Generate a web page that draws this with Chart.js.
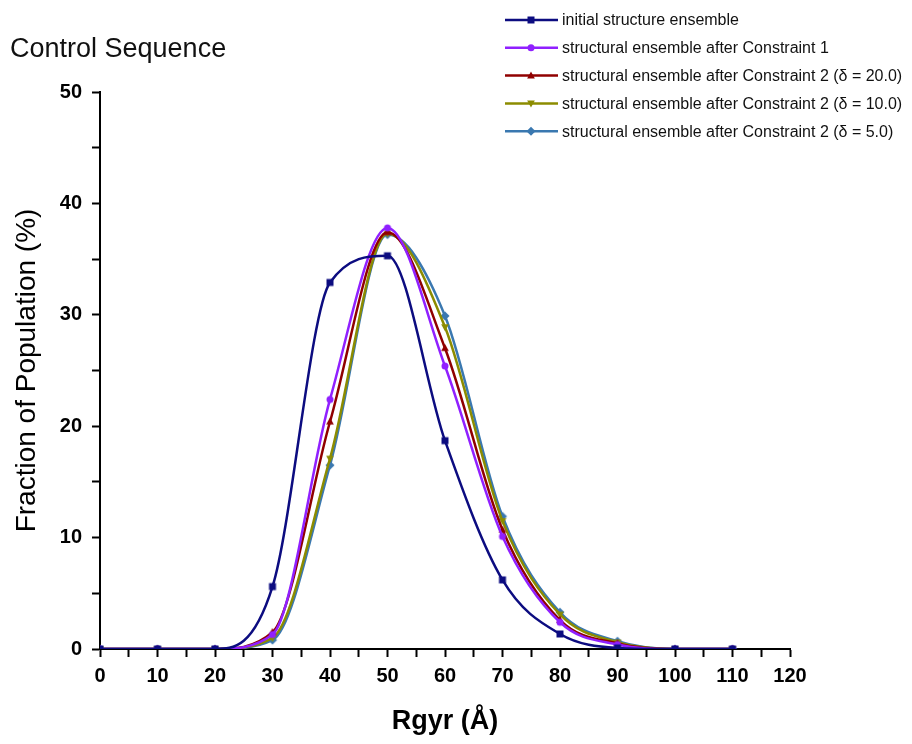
<!DOCTYPE html>
<html>
<head>
<meta charset="utf-8">
<script src="https://cdn.jsdelivr.net/npm/chart.js@4"></script>
<style>
  html, body { margin: 0; padding: 0; background: #fff; }
  #wrap { width: 912px; height: 744px; }
</style>
</head>
<body>
<div id="wrap"><canvas id="rgyrChart" width="912" height="744"></canvas></div>
<script>
// Rgyr bins (Å)
const rgyr = [0, 10, 20, 30, 40, 50, 60, 70, 80, 90, 100, 110];

// Fraction of population (%) for each ensemble
const initialEnsemble = [0, 0, 0, 5.6, 32.9, 35.3, 18.7, 6.2, 1.35, 0.1, 0, 0];
const afterC1 = [0, 0, 0, 1.3, 22.4, 37.8, 25.4, 10.1, 2.4, 0.4, 0, 0];
const afterC2d20 = [0, 0, 0, 1.5, 20.4, 37.4, 27.0, 10.7, 2.6, 0.5, 0, 0];
const afterC2d10 = [0, 0, 0, 1.0, 17.1, 37.3, 28.9, 11.5, 3.1, 0.6, 0, 0];
const afterC2d5 = [0, 0, 0, 0.8, 16.5, 37.2, 29.9, 11.9, 3.3, 0.7, 0, 0];

const seriesNames = [
  'initial structure ensemble',
  'structural ensemble after Constraint 1',
  'structural ensemble after Constraint 2 (\u03b4 = 20.0)',
  'structural ensemble after Constraint 2 (\u03b4 = 10.0)',
  'structural ensemble after Constraint 2 (\u03b4 = 5.0)'
];

const xTicks = [0, 10, 20, 30, 40, 50, 60, 70, 80, 90, 100, 110, 120];
const yTicks = [0, 10, 20, 30, 40, 50];

const colors = ['#0c0c80', '#9020ff', '#900000', '#8c8c00', '#3a78b0'];
const markers = ['rect', 'circle', 'triangle', 'triangleDown', 'rectRot'];
const allSeries = [initialEnsemble, afterC1, afterC2d20, afterC2d10, afterC2d5];

function toPoints(vals) {
  return vals.map((v, i) => ({ x: rgyr[i], y: v }));
}

// small marker painter used for both the plot and the legend
function paintMarker(ctx, style, x, y, r) {
  ctx.beginPath();
  if (style === 'rect') {
    ctx.rect(x - r, y - r, r * 2, r * 2);
  } else if (style === 'circle') {
    ctx.arc(x, y, r, 0, Math.PI * 2);
  } else if (style === 'triangle') {
    ctx.moveTo(x, y - r * 1.2);
    ctx.lineTo(x + r * 1.1, y + r * 0.8);
    ctx.lineTo(x - r * 1.1, y + r * 0.8);
    ctx.closePath();
  } else if (style === 'triangleDown') {
    ctx.moveTo(x, y + r * 1.2);
    ctx.lineTo(x + r * 1.1, y - r * 0.8);
    ctx.lineTo(x - r * 1.1, y - r * 0.8);
    ctx.closePath();
  } else {
    ctx.moveTo(x, y - r * 1.3);
    ctx.lineTo(x + r * 1.3, y);
    ctx.lineTo(x, y + r * 1.3);
    ctx.lineTo(x - r * 1.3, y);
    ctx.closePath();
  }
  ctx.fill();
}

// custom markers (triangle pointing down is not built in)
function markerCanvas(style, color) {
  const c = document.createElement('canvas');
  c.width = 12; c.height = 12;
  const cx = c.getContext('2d');
  cx.fillStyle = color;
  paintMarker(cx, style, 6, 6, 3.5);
  return c;
}

const datasets = allSeries.map((vals, i) => ({
  label: seriesNames[i],
  data: toPoints(vals),
  borderColor: colors[i],
  backgroundColor: colors[i],
  borderWidth: 2.5,
  pointStyle: markerCanvas(markers[i], colors[i]),
  pointRadius: 4,
  cubicInterpolationMode: 'monotone',
  fill: false
}));

// title + legend drawn at fixed spots
const extrasPlugin = {
  id: 'extras',
  afterDraw(chart) {
    const ctx = chart.ctx;
    ctx.save();
    ctx.fillStyle = '#111';
    ctx.font = '27px "Liberation Sans", Arial, sans-serif';
    ctx.textBaseline = 'middle';
    ctx.textAlign = 'left';
    ctx.fillText('Control Sequence', 10, 50);

    ctx.font = '16px "Liberation Sans", Arial, sans-serif';
    seriesNames.forEach((name, i) => {
      const y = 20 + i * 27.8;
      ctx.strokeStyle = colors[i];
      ctx.lineWidth = 2.5;
      ctx.beginPath();
      ctx.moveTo(505, y);
      ctx.lineTo(558, y);
      ctx.stroke();
      ctx.fillStyle = colors[i];
      paintMarker(ctx, markers[i], 531, y, 3.5);
      ctx.fillStyle = '#111';
      ctx.fillText(name, 562, y + 1);
    });
    ctx.restore();
  }
};

const ctx = document.getElementById('rgyrChart').getContext('2d');
new Chart(ctx, {
  type: 'line',
  data: { datasets: datasets },
  options: {
    responsive: false,
    animation: false,
    layout: { padding: { left: 0, top: 92, right: 122, bottom: 0 } },
    plugins: {
      legend: { display: false },
      tooltip: { enabled: false }
    },
    scales: {
      x: {
        type: 'linear',
        min: 0,
        max: 120,
        afterBuildTicks: axis => { axis.ticks = [];
          for (let v = 0; v <= 120; v += 5) axis.ticks.push({ value: v }); },
        afterFit: axis => { axis.height = 95; },
        grid: { drawOnChartArea: false, tickLength: 8, tickWidth: 2, tickColor: '#000' },
        border: { color: '#000', width: 2 },
        ticks: {
          color: '#000',
          padding: 7,
          maxRotation: 0,
          autoSkip: false,
          font: { size: 20, weight: 'bold', family: '"Liberation Sans", Arial, sans-serif' },
          callback: v => xTicks.includes(v) ? String(v) : ''
        },
        title: {
          display: true,
          text: 'Rgyr (\u00c5)',
          color: '#000',
          padding: { top: 4, bottom: 6 },
          font: { size: 27, weight: 'bold', family: '"Liberation Sans", Arial, sans-serif' }
        }
      },
      y: {
        min: 0,
        max: 50,
        afterBuildTicks: axis => { axis.ticks = [];
          for (let v = 0; v <= 50; v += 5) axis.ticks.push({ value: v }); },
        afterFit: axis => { axis.width = 100; },
        grid: { drawOnChartArea: false, tickLength: 8, tickWidth: 2, tickColor: '#000' },
        border: { color: '#000', width: 2 },
        ticks: {
          color: '#000',
          padding: 10,
          autoSkip: false,
          font: { size: 20, weight: 'bold', family: '"Liberation Sans", Arial, sans-serif' },
          callback: v => yTicks.includes(v) ? String(v) : ''
        },
        title: {
          display: true,
          text: 'Fraction of Population (%)',
          color: '#000',
          padding: { top: 10, bottom: 0 },
          font: { size: 28, family: '"Liberation Sans", Arial, sans-serif' }
        }
      }
    }
  },
  plugins: [extrasPlugin]
});
</script>
</body>
</html>
